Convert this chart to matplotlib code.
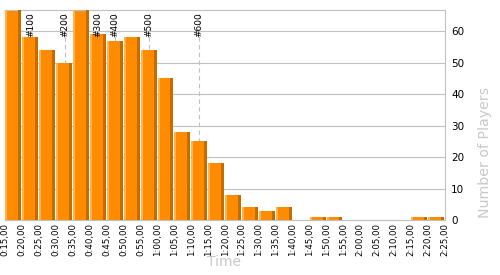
import numpy as np
import matplotlib
matplotlib.use("Agg")
import matplotlib.pyplot as plt

# finishing-time histogram, 5-minute bins starting at 0:15
bin_edges_min = list(range(15, 150, 5))
players = [70, 58, 54, 50, 68, 59, 57, 58, 54, 45, 28, 25, 18, 8, 4, 3, 4,
           0, 1, 1, 0, 0, 0, 0, 1, 1]
# time (minutes) at which the n-th player finished
marker_labels = ["#100", "#200", "#300", "#400", "#500", "#600"]
marker_min = [22.6, 32.55, 42.4, 47.4, 57.4, 72.3]
y_ticks = [0, 10, 20, 30, 40, 50, 60]

tick_labels = [f"{m // 60}:{m % 60:02d},00" for m in bin_edges_min]

fig = plt.figure(figsize=(5.0, 2.75), dpi=100)
ax = fig.add_axes([0.0106, 0.2, 0.879, 0.7636])

left = np.array(bin_edges_min[:-1], dtype=float)
vals = np.array(players, dtype=float)
w = 5.0
bw = w * 15.9 / 16.92
light = w * 2.0 / 16.92
dark = w * 3.0 / 16.92

for x, lab in zip(marker_min, marker_labels):
    ax.axvline(x, color="#c0c0c0", lw=0.8, ls=(0, (4, 3)), zorder=1)
    ax.text(x, 66.0, lab, rotation=90, ha="center", va="top",
            fontsize=6.5, color="black", zorder=4)

ax.bar(left + 0.03, vals, width=bw, align="edge", color="#ff8c00",
       lw=0, zorder=2)
ax.bar(left + 0.03, vals, width=light, align="edge", color="#ffb24d",
       lw=0, zorder=3)
ax.bar(left + 0.03 + bw - dark, vals, width=dark, align="edge",
       color="#c46c00", lw=0, zorder=3)

ax.set_xlim(15, 145)
ax.set_ylim(0, 66.7)
ax.set_xticks(bin_edges_min)
ax.set_xticklabels(tick_labels, rotation=90, fontsize=6.2)
ax.set_yticks(y_ticks)
ax.yaxis.tick_right()
ax.yaxis.set_label_position("right")
ax.tick_params(axis="y", length=0, pad=4.5, labelsize=7.5)
ax.tick_params(axis="x", length=0, pad=2)
ax.grid(axis="y", color="#c0c0c0", lw=0.8, zorder=0)
ax.set_axisbelow(True)
for s in ax.spines.values():
    s.set_color("#c0c0c0")
    s.set_linewidth(0.8)

ax.set_xlabel("Time", fontsize=10, color="#c8c8c8")
ax.xaxis.set_label_coords(0.497, -0.168)
ax.set_ylabel("Number of Players", fontsize=10.2, color="#c8c8c8")
ax.yaxis.set_label_coords(1.075, 0.32)

fig.savefig("out.png", dpi=100)
